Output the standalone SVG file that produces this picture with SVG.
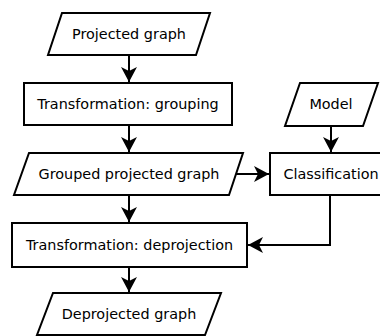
<svg xmlns="http://www.w3.org/2000/svg" width="380" height="336" viewBox="0 0 380 336">
  <style>
    .shape { fill: #ffffff; stroke: #000000; stroke-width: 2; stroke-linejoin: miter; }
    .edge { fill: none; stroke: #000000; stroke-width: 2; marker-end: url(#head); }
    text { font-family: "DejaVu Sans", sans-serif; font-size: 14.4px; fill: #000000; text-anchor: middle; }
  </style>
  <defs>
    <marker id="head" markerUnits="userSpaceOnUse" markerWidth="20" markerHeight="20" viewBox="-16 -10 18 20" refX="0" refY="0" orient="auto">
      <path d="M0,0 L-15,-8 L-11,0 L-15,8 Z" fill="#000000"/>
    </marker>
  </defs>
  <rect width="380" height="336" fill="#ffffff"/>

  <g id="connectors">
    <line class="edge" x1="129" y1="55" x2="129" y2="82"/>
    <line class="edge" x1="129" y1="125" x2="129" y2="152"/>
    <line class="edge" x1="331" y1="126" x2="331" y2="152"/>
    <line class="edge" x1="236" y1="174" x2="269" y2="174"/>
    <line class="edge" x1="129" y1="195" x2="129" y2="222"/>
    <polyline class="edge" points="330,195 330,245 248,245"/>
    <line class="edge" x1="129" y1="267" x2="129" y2="292"/>
  </g>

  <g id="projected-graph">
    <polygon class="shape" points="62,13 210,13 196,55 48,55"/>
    <text x="129" y="39">Projected graph</text>
  </g>

  <g id="grouping">
    <rect class="shape" x="24" y="83" width="208" height="42"/>
    <text x="128" y="109">Transformation: grouping</text>
  </g>

  <g id="model">
    <polygon class="shape" points="300,83 378,83 363,126 285,126"/>
    <text x="331" y="109">Model</text>
  </g>

  <g id="grouped-projected-graph">
    <polygon class="shape" points="29,153 243,153 229,195 14,195"/>
    <text x="129" y="179">Grouped projected graph</text>
  </g>

  <g id="classification">
    <rect class="shape" x="270" y="153" width="122" height="42"/>
    <text x="331" y="179">Classification</text>
  </g>

  <g id="deprojection">
    <rect class="shape" x="12" y="223" width="235" height="44"/>
    <text x="129.5" y="250">Transformation: deprojection</text>
  </g>

  <g id="deprojected-graph">
    <polygon class="shape" points="53,293 221,293 205,335 37,335"/>
    <text x="129" y="319">Deprojected graph</text>
  </g>
</svg>
